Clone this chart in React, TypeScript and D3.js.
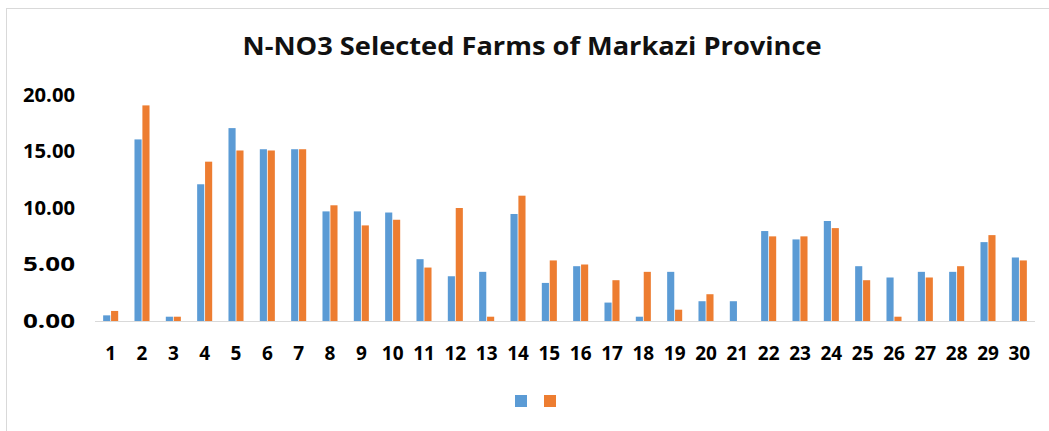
import { scaleBand, scaleLinear } from 'd3'

const categories = Array.from({ length: 30 }, (_, i) => String(i + 1))
const seriesA = [0.5, 16.07, 0.38, 12.1, 17.07, 15.2, 15.2, 9.7, 9.7, 9.6, 5.47, 3.96, 4.35, 9.47, 3.37, 4.85, 1.63, 0.38, 4.35, 1.75, 1.75, 7.96, 7.22, 8.85, 4.85, 3.85, 4.35, 4.35, 6.98, 5.62]
const seriesB = [0.89, 19.08, 0.38, 14.1, 15.09, 15.09, 15.2, 10.24, 8.46, 8.96, 4.73, 10.0, 0.38, 11.09, 5.36, 5.0, 3.61, 4.35, 1.0, 2.37, 0, 7.49, 7.49, 8.22, 3.61, 0.38, 3.85, 4.85, 7.6, 5.36]
const yTicks = [0, 5, 10, 15, 20]
const colors = ['#5B9BD5', '#ED7D31']

function App() {
  const width = 1049
  const height = 431
  const left = 95
  const right = 1035
  const top = 95
  const bottom = 321
  const font = '"Open Sans", sans-serif'

  const x0 = scaleBand<string>().domain(categories).range([left, right]).paddingInner(0.52).paddingOuter(0.26)
  const x1 = scaleBand<number>().domain([0, 1]).range([0, x0.bandwidth()]).paddingInner(0.1)
  const y = scaleLinear().domain([0, 20]).range([bottom, top])
  const series = [seriesA, seriesB]

  return (
    <svg width={width} height={height} style={{ position: 'absolute', left: 0, top: 0 }}>
      <rect x={0} y={0} width={width} height={height} fill="#fff" />
      <rect x={6.5} y={8.5} width={width + 10} height={height + 10} fill="none" stroke="#d9d9d9" />
      <text x={532} y={55} textAnchor="middle" fontFamily={font} fontSize={25} fontWeight={700}
        fill="#111" textLength={579} lengthAdjust="spacingAndGlyphs">
        N-NO3 Selected Farms of Markazi Province
      </text>
      {yTicks.map((t) => (
        <text key={t} x={75} y={y(t)} dy="0.35em" textAnchor="end" fontFamily={font}
          fontSize={19} fontWeight={700} fill="#000" textLength={52} lengthAdjust="spacingAndGlyphs">
          {t.toFixed(2)}
        </text>
      ))}
      <line x1={left} x2={right} y1={bottom + 0.5} y2={bottom + 0.5} stroke="#d9d9d9" />
      {categories.map((c, i) => (
        <g key={c}>
          {series.map((s, j) => (
            <rect key={j} x={(x0(c) ?? 0) + (x1(j) ?? 0)} y={y(s[i])} width={x1.bandwidth()}
              height={bottom - y(s[i])} fill={colors[j]} />
          ))}
          <text x={(x0(c) ?? 0) + x0.bandwidth() / 2} y={353} dy="0.35em" textAnchor="middle"
            fontFamily={font} fontSize={19} fontWeight={700} fill="#000">
            {c}
          </text>
        </g>
      ))}
      {colors.map((col, j) => (
        <rect key={col} x={515 + j * 29} y={395} width={12} height={12} fill={col} />
      ))}
    </svg>
  )
}

export default App
